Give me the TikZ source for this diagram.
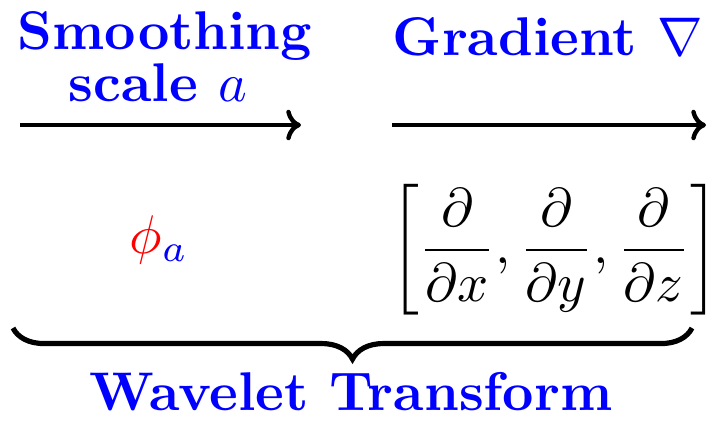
\documentclass[tikz,border=0pt]{standalone}
\usepackage{amsmath}
\usetikzlibrary{arrows.meta,decorations.pathreplacing}
\begin{document}
\begin{tikzpicture}[x=0.18349pt,y=-0.18349pt,
  lbl/.style={inner sep=0pt,anchor=base,text=blue,font=\bfseries},
  mth/.style={inner sep=0pt,anchor=base},
  arr/.style={line width=0.8pt,-{Computer Modern Rightarrow[length=2.7pt,width=5.6pt]}},
  ubrace/.style={line width=0.95pt,decorate,decoration={brace,mirror,amplitude=5.7pt}}]
\useasboundingbox (0,0) rectangle (711,420);
% top labels
\node[lbl] (smooth) at (165,49) {Smoothing};
\node[lbl] (scale) at (158,101) {scale \mdseries$a$};
\node[lbl] (grad) at (548,55) {Gradient $\nabla$};
% arrows
\coordinate (a1s) at (20,125);
\coordinate (a1e) at (301,125);
\coordinate (a2s) at (392,125);
\coordinate (a2e) at (706,125);
\draw[arr] (a1s) -- (a1e);
\draw[arr] (a2s) -- (a2e);
% middle row
\node[mth] (phi) at (159,253) {$\textcolor{red}{\phi}_{\textcolor{blue}{a}}$};
\node[mth] (ops) at (554.5,263.6) {$\displaystyle\left[\frac{\partial}{\partial x}, \frac{\partial}{\partial y}, \frac{\partial}{\partial z}\right]$};
% underbrace
\coordinate (bl) at (13,328);
\coordinate (br) at (692,328);
\draw[ubrace] (bl) -- (br);
\node[lbl] (wt) at (351,410) {Wavelet Transform};
\end{tikzpicture}
\end{document}
